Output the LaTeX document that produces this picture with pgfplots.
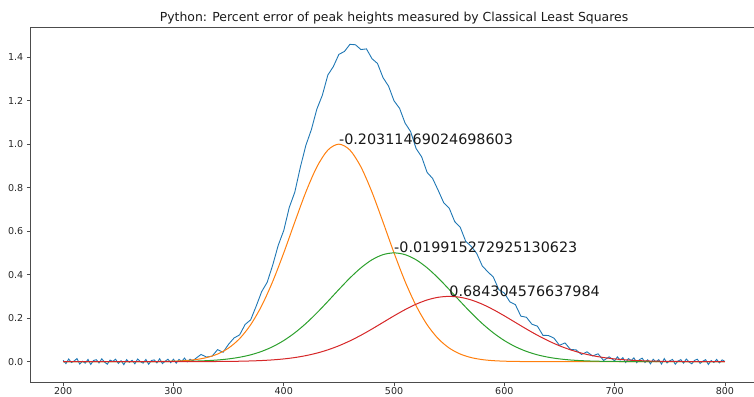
\documentclass[border=0pt]{standalone}
\usepackage{pgfplots}
\pgfplotsset{compat=1.18}
\usepackage{fontspec}
\setmainfont{DejaVu Sans}

\definecolor{mplblue}{HTML}{1F77B4}
\definecolor{mplorange}{HTML}{FF7F0E}
\definecolor{mplgreen}{HTML}{2CA02C}
\definecolor{mplred}{HTML}{D62728}

\begin{document}
\begin{tikzpicture}
\begin{axis}[
    scale only axis,
    width=726bp, height=354.4bp,
    xmin=170, xmax=830,
    ymin=-0.097, ymax=1.537,
    axis x line*=box, axis y line*=left,
    xtick={200,300,400,500,600,700,800},
    ytick={0,0.2,0.4,0.6,0.8,1.0,1.2,1.4},
    yticklabel style={/pgf/number format/.cd, fixed, fixed zerofill, precision=1},
    xticklabel style={yshift=2bp},
    /pgf/number format/assume math mode=true,
    scaled y ticks=false,
    xtick pos=bottom, ytick pos=left,
    tick align=outside,
    major tick length=3.3bp,
    tick style={black!70, line width=0.75bp},
    axis line style={black!70, line width=0.75bp, -},
    every tick label/.append style={font=\fontsize{9.5bp}{11bp}\selectfont, text=black!85},
    title={Python: Percent error of peak heights measured by Classical Least Squares},
    title style={font=\fontsize{12.4bp}{14bp}\selectfont, text=black!90, at={(0.5,1)}, anchor=base, yshift=-0.5bp},
]
\coordinate (O) at (rel axis cs:0,0);

% measured signal (sum of peaks plus noise)
\addplot[color=mplblue, line width=0.9bp] coordinates {
(200,0.006)(202.5,-0.009)(205,0.012)(207.5,-0.004)(210,0.003)(212.5,0.014)(215,-0.011)(217.5,0.002)
(220,-0.007)(222.5,0.010)(225,-0.013)(227.5,0.005)(230,0.009)(232.5,-0.006)(235,0.013)(237.5,-0.002)
(240,-0.012)(242.5,0.007)(245,0.001)(247.5,0.011)(250,-0.008)(252.5,0.004)(255,-0.014)(257.5,0.009)
(260,-0.003)(262.5,0.006)(265,-0.010)(267.5,0.012)(270,0.000)(272.5,-0.007)(275,0.010)(277.5,-0.012)
(280,0.005)(282.5,0.008)(285,-0.006)(287.5,0.013)(290,-0.009)(292.5,0.002)(295,0.011)(297.5,-0.005)
(300,0.011)(302.5,-0.007)(305,0.010)(307.5,0.001)(310,0.016)(312.5,-0.001)(315,0.011)(317.5,0.004)
(320,0.014)(325,0.033)(330,0.021)(335,0.025)(340,0.055)(345,0.043)(350,0.080)(355,0.109)
(360,0.123)(365,0.171)(370,0.192)(375,0.255)(380,0.322)(385,0.365)(390,0.444)(395,0.535)
(400,0.603)(405,0.709)(410,0.779)(415,0.893)(420,0.994)(425,1.066)(430,1.161)(435,1.225)
(440,1.318)(445,1.357)(450,1.413)(455,1.426)(460,1.459)(465,1.457)(470,1.435)(475,1.438)
(480,1.393)(485,1.371)(490,1.306)(495,1.267)(500,1.199)(505,1.165)(510,1.097)(515,1.058)
(520,0.980)(525,0.942)(530,0.870)(535,0.842)(540,0.788)(545,0.731)(550,0.706)(555,0.644)
(560,0.618)(565,0.553)(570,0.530)(575,0.497)(580,0.440)(585,0.413)(590,0.389)(595,0.331)
(600,0.315)(605,0.275)(610,0.262)(615,0.209)(620,0.204)(625,0.172)(630,0.163)(635,0.121)
(640,0.120)(645,0.108)(650,0.075)(655,0.086)(660,0.056)(665,0.054)(670,0.033)(675,0.045)
(680,0.026)(685,0.036)(690,0.005)(695,0.022)
(700,0.004)(702.5,0.022)(705,0.007)(707.5,0.018)(710,-0.004)(712.5,0.014)(715,0.005)(717.5,0.017)
(720,-0.005)(722.5,0.009)(725,0.016)(727.5,-0.004)(730,0.008)(732.5,-0.010)(735,0.011)(737.5,-0.001)
(740,0.009)(742.5,-0.011)(745,0.014)(747.5,-0.006)(750,0.004)(752.5,0.010)(755,-0.012)(757.5,0.003)
(760,0.009)(762.5,-0.007)(765,0.012)(767.5,-0.002)(770,-0.010)(772.5,0.006)(775,0.011)(777.5,-0.008)
(780,0.002)(782.5,0.009)(785,-0.013)(787.5,0.005)(790,-0.004)(792.5,0.010)(795,-0.006)(797.5,0.008)
(800,0.001)
};

% component 1
\addplot[color=mplorange, line width=1bp, smooth] coordinates {
(200,0)(210,0)(220,0)(230,0)(240,0)(250,0)(260,0)(270,0.0001)(280,0.0003)(290,0.0008)
(300,0.0020)(310,0.0044)(320,0.0092)(330,0.0185)(340,0.0349)(350,0.0625)(360,0.1058)
(370,0.1696)(380,0.2571)(390,0.3686)(400,0.5000)(410,0.6417)(420,0.7792)(430,0.8950)
(440,0.9727)(450,1.0000)(460,0.9727)(470,0.8950)(480,0.7792)(490,0.6417)(500,0.5000)
(510,0.3686)(520,0.2571)(530,0.1696)(540,0.1058)(550,0.0625)(560,0.0349)(570,0.0185)
(580,0.0092)(590,0.0044)(600,0.0020)(610,0.0008)(620,0.0003)(630,0.0001)(640,0)(650,0)
(660,0)(670,0)(680,0)(690,0)(700,0)(710,0)(720,0)(730,0)(740,0)(750,0)(760,0)(770,0)
(780,0)(790,0)(800,0)
};

% component 2
\addplot[color=mplgreen, line width=1bp, smooth] coordinates {
(200,0)(210,0)(220,0)(230,0)(240,0)(250,0)(260,0)(270,0.0001)(280,0.0002)(290,0.0004)
(300,0.0007)(310,0.0013)(320,0.0025)(330,0.0044)(340,0.0075)(350,0.0125)(360,0.0201)
(370,0.0312)(380,0.0471)(390,0.0687)(400,0.0969)(410,0.1324)(420,0.1750)(430,0.2238)
(440,0.2770)(450,0.3318)(460,0.3846)(470,0.4314)(480,0.4683)(490,0.4919)(500,0.5000)
(510,0.4919)(520,0.4683)(530,0.4314)(540,0.3846)(550,0.3318)(560,0.2770)(570,0.2238)
(580,0.1750)(590,0.1324)(600,0.0969)(610,0.0687)(620,0.0471)(630,0.0312)(640,0.0201)
(650,0.0125)(660,0.0075)(670,0.0044)(680,0.0025)(690,0.0013)(700,0.0007)(710,0.0004)
(720,0.0002)(730,0.0001)(740,0)(750,0)(760,0)(770,0)(780,0)(790,0)(800,0)
};

% component 3
\addplot[color=mplred, line width=1bp, smooth] coordinates {
(200,0)(210,0)(220,0)(230,0)(240,0)(250,0)(260,0)(270,0)(280,0)(290,0)
(300,0)(310,0.0001)(320,0.0002)(330,0.0003)(340,0.0006)(350,0.0010)(360,0.0018)
(370,0.0031)(380,0.0050)(390,0.0080)(400,0.0124)(410,0.0187)(420,0.0275)(430,0.0391)
(440,0.0542)(450,0.0729)(460,0.0954)(470,0.1213)(480,0.1500)(490,0.1803)(500,0.2106)
(510,0.2391)(520,0.2641)(530,0.2835)(540,0.2958)(550,0.3000)(560,0.2958)(570,0.2835)
(580,0.2641)(590,0.2391)(600,0.2106)(610,0.1803)(620,0.1500)(630,0.1213)(640,0.0954)
(650,0.0729)(660,0.0542)(670,0.0391)(680,0.0275)(690,0.0187)(700,0.0124)(710,0.0080)
(720,0.0050)(730,0.0031)(740,0.0018)(750,0.0010)(760,0.0006)(770,0.0003)(780,0.0002)
(790,0.0001)(800,0)
};

\node[anchor=base west, inner sep=0pt, font=\fontsize{14.3bp}{16bp}\selectfont, text=black!90]
  at (axis cs:450,1.0) {-0.20311469024698603};
\node[anchor=base west, inner sep=0pt, font=\fontsize{14.3bp}{16bp}\selectfont, text=black!90]
  at (axis cs:500,0.5) {-0.019915272925130623};
\node[anchor=base west, inner sep=0pt, font=\fontsize{14.3bp}{16bp}\selectfont, text=black!90]
  at (axis cs:550,0.3) {0.684304576637984};
\end{axis}
\pgfresetboundingbox
\path[use as bounding box] (O) ++(-30bp,-13.3bp) rectangle ++(752bp,395bp);
\end{tikzpicture}
\end{document}
